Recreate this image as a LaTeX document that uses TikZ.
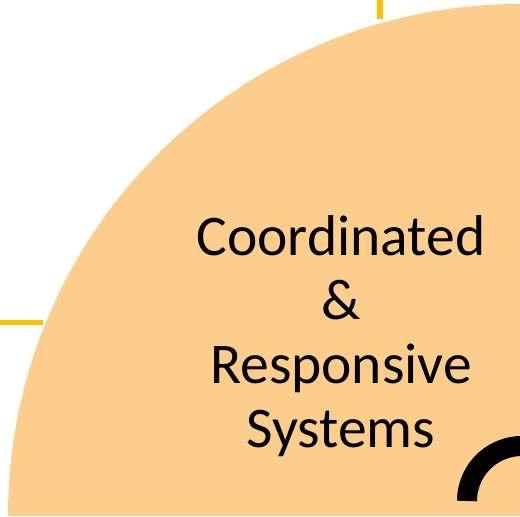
\documentclass[tikz,border=0pt]{standalone}
\usepackage{fontspec}
\setmainfont{Carlito}
\usepackage{tikz}
\definecolor{peach}{RGB}{253,205,142}
\definecolor{gold}{RGB}{255,192,0}
\def\quadrant{(520,1) -- (8,1) arc[start angle=180, end angle=90, radius=512] -- cycle}
\def\pageframe{(0,0) rectangle (520,517)}

\begin{document}
\begin{tikzpicture}[x=1pt,y=1pt]
    \useasboundingbox \pageframe;
    \begin{scope}
        \clip \pageframe;
        \draw[gold, line width=6pt] (379.5,517) -- (379.5,498);
        \draw[gold, line width=5.5pt] (0,194.5) -- (43,194.5);
        \fill[peach] \quadrant;
        \draw[black, line width=20pt] (467,16) arc[start angle=180, end angle=80, radius=55];
    \end{scope}
    \node[anchor=base, align=center, font=\fontsize{57.5}{64.3}\selectfont] (title) at (341,69)
        {Coordinated\\ \&\\ Responsive\\ Systems};
\end{tikzpicture}
\end{document}
